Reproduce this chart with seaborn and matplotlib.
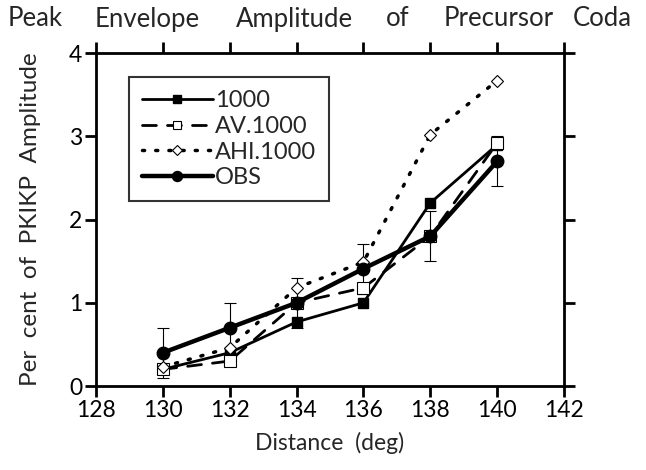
import matplotlib
matplotlib.use("Agg")
import matplotlib.pyplot as plt
import seaborn as sns
import numpy as np
import pandas as pd

distance = [130, 132, 134, 136, 138, 140]
s1000 = [0.2, 0.4, 0.77, 1.0, 2.2, 2.9]
av1000 = [0.2, 0.3, 1.0, 1.18, 1.8, 2.92]
ahi1000 = [0.23, 0.46, 1.18, 1.49, 3.02, 3.67]
obs = [0.4, 0.7, 1.0, 1.41, 1.8, 2.7]
obs_err = [0.3, 0.3, 0.3, 0.3, 0.3, 0.3]
series_names = ["1000", "AV.1000", "AHI.1000", "OBS"]
xticks = [128, 130, 132, 134, 136, 138, 140, 142]
yticks = [0, 1, 2, 3, 4]
title_words = ["Peak", "Envelope", "Amplitude", "of", "Precursor", "Coda"]

sns.set_theme(style="white")
plt.rcParams['font.family'] = ['Lato', 'DejaVu Sans']

fig = plt.figure(figsize=(6.46, 4.70), dpi=100)
ax = fig.add_axes([0.1486, 0.1787, 0.7245, 0.7083])

df = pd.DataFrame({"d": distance})
styles = [
    dict(y=s1000, color="black", lw=2.0, ls="-", marker="s", ms=7, mfc="black", mec="black", mew=1),
    dict(y=av1000, color="black", lw=2.0, ls=(0, (5, 4)), marker="s", ms=8, mfc="white", mec="black", mew=0.8),
    dict(y=ahi1000, color="black", lw=2.5, ls=(0, (0.6, 3.2)), marker="D", ms=6, mfc="white", mec="black", mew=0.8),
    dict(y=obs, color="black", lw=3.2, ls="-", marker="o", ms=9, mfc="black", mec="black", mew=1),
]

ax.errorbar(distance, obs, yerr=obs_err, fmt="none", ecolor="black", elinewidth=0.8, capsize=4, capthick=0.8, zorder=1)

for name, st in zip(series_names, styles):
    d = df.copy()
    d["v"] = st["y"]
    sns.lineplot(data=d, x="d", y="v", ax=ax, color=st["color"], linewidth=st["lw"],
                 linestyle=st["ls"], marker=st["marker"], markersize=st["ms"],
                 markerfacecolor=st["mfc"], markeredgecolor=st["mec"], markeredgewidth=st["mew"],
                 label=name, zorder=3, dash_capstyle="round")

ax.set_xlim(128, 142)
ax.set_ylim(0, 4)
ax.set_xticks(xticks)
ax.set_yticks(yticks)
ax.set_xticklabels([str(t) for t in xticks])
ax.set_yticklabels([str(t) for t in yticks])
for sp in ax.spines.values():
    sp.set_visible(True)
    sp.set_color("black")
    sp.set_linewidth(2.0)
ax.tick_params(axis="both", which="both", direction="out", length=8, width=2, colors="black",
               labelsize=16.5, top=True, right=True, bottom=True, left=True,
               labeltop=False, labelright=False, pad=2)

ax.set_xlabel("Distance  (deg)", fontsize=16.5, labelpad=8)
ax.set_ylabel("Per  cent  of  PKIKP  Amplitude", fontsize=17.5, labelpad=20)

leg = ax.legend(loc="upper left", bbox_to_anchor=(0.07, 0.928), borderaxespad=0,
                fontsize=17, handlelength=3.0, handletextpad=0.1, labelspacing=0.2,
                frameon=True, fancybox=False, edgecolor="black", borderpad=0.55,
                markerscale=0.8)
leg.get_frame().set_linewidth(1.5)

title_x = [8, 95, 236, 386, 444, 573]
for w, xp in zip(title_words, title_x):
    fig.text(xp / 646, 1 - 19 / 470, w, fontsize=18.5, va="center", ha="left")

fig.savefig("out.png", dpi=100)
